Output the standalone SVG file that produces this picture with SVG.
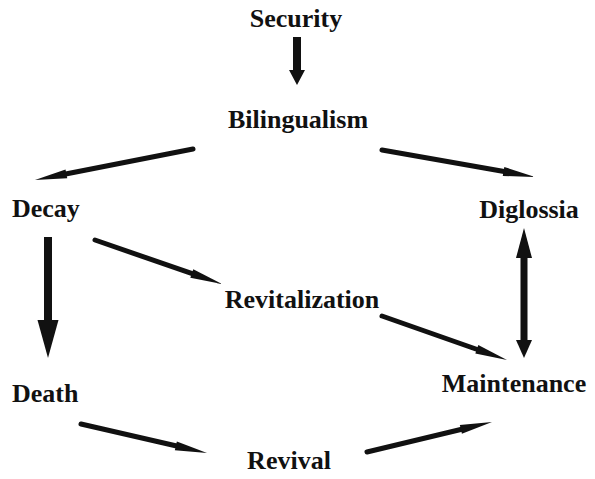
<svg xmlns="http://www.w3.org/2000/svg" width="595" height="479" viewBox="0 0 595 479">
<defs>
<style>
.t{font-family:"Liberation Serif","Times New Roman",serif;font-weight:bold;font-size:26px;fill:#111}
.m{text-anchor:middle}
.s{stroke:#111;stroke-width:5;stroke-linecap:round;fill:none}
.h{fill:#111}
</style>
<marker id="hd" markerUnits="userSpaceOnUse" markerWidth="40" markerHeight="20" refX="0" refY="0" viewBox="0 -10 40 20" orient="auto" overflow="visible">
<path d="M-2,-4.5 L30,0 L-2,4.5 Z" fill="#111"/>
</marker>
</defs>
<rect width="595" height="479" fill="#fff"/>
<g id="connectors">
<g id="e-security-bilingualism"><rect x="293" y="37" width="8" height="34" class="h"/><path d="M289,70 L305,70 L297,85 Z" class="h"/></g>
<line id="e-bilingualism-decay" x1="193" y1="149" x2="64.4" y2="174.2" class="s" marker-end="url(#hd)"/>
<line id="e-bilingualism-diglossia" x1="382" y1="150" x2="505.5" y2="171.8" class="s" marker-end="url(#hd)"/>
<g id="e-decay-death"><rect x="44" y="237" width="8" height="84" class="h"/><path d="M37.5,320 L58.5,320 L48,358 Z" class="h"/></g>
<line id="e-decay-revitalization" x1="95" y1="240" x2="193.7" y2="274.2" class="s" marker-end="url(#hd)"/>
<g id="e-diglossia-maintenance"><rect x="520.5" y="257" width="7" height="84" class="h"/><path d="M516,258 L532,258 L524,228 Z" class="h"/><path d="M516,340 L532,340 L524,358 Z" class="h"/></g>
<line id="e-revitalization-maintenance" x1="382" y1="316" x2="478.7" y2="350" class="s" marker-end="url(#hd)"/>
<line id="e-death-revival" x1="81" y1="424" x2="177.8" y2="446.3" class="s" marker-end="url(#hd)"/>
<line id="e-revival-maintenance" x1="367" y1="452" x2="462.8" y2="429" class="s" marker-end="url(#hd)"/>
</g>
<g id="security"><text class="t m" x="296" y="27">Security</text></g>
<g id="bilingualism"><text class="t m" x="298" y="128">Bilingualism</text></g>
<g id="decay"><text class="t" x="12" y="217">Decay</text></g>
<g id="diglossia"><text class="t m" x="529" y="218">Diglossia</text></g>
<g id="revitalization"><text class="t m" x="302" y="308">Revitalization</text></g>
<g id="maintenance"><text class="t m" x="514" y="392">Maintenance</text></g>
<g id="death"><text class="t" x="12" y="402">Death</text></g>
<g id="revival"><text class="t m" x="289" y="469">Revival</text></g>
</svg>
